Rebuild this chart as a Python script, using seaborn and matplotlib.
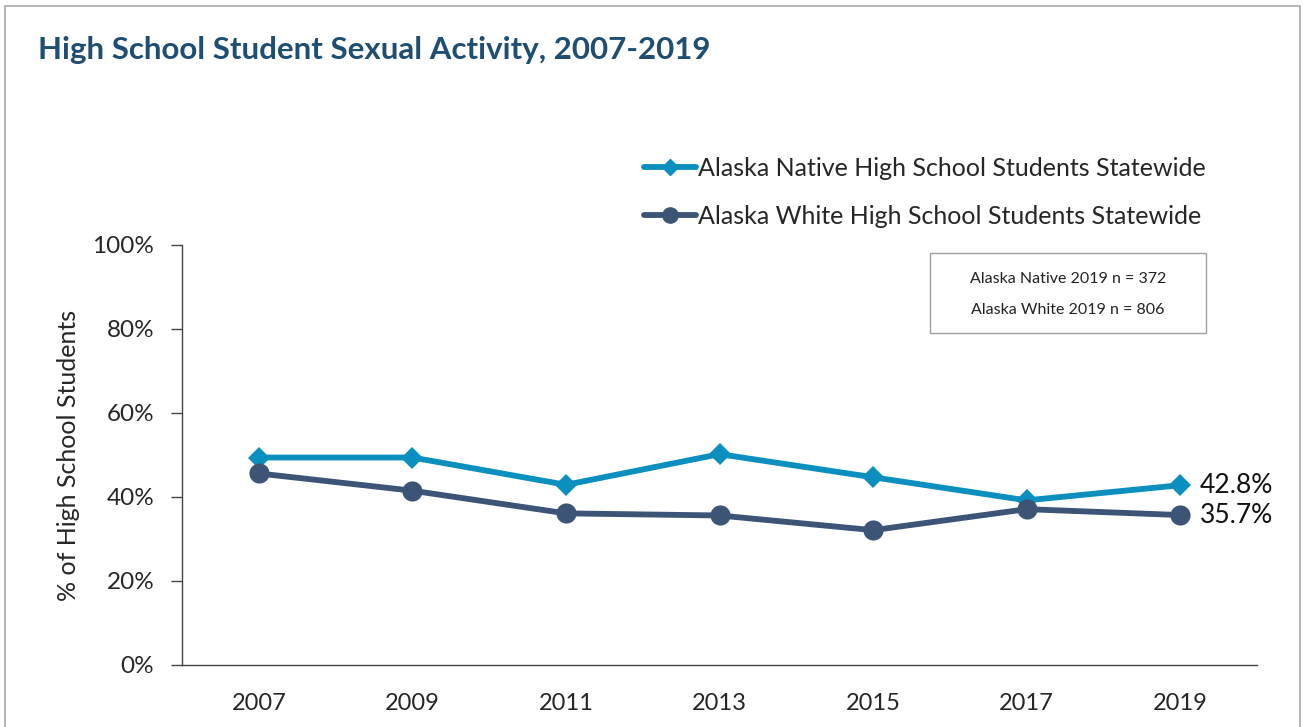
import numpy as np
import pandas as pd
import matplotlib.pyplot as plt
import seaborn as sns
from matplotlib.lines import Line2D
from matplotlib.patches import Rectangle

# data
years = ["2007", "2009", "2011", "2013", "2015", "2017", "2019"]
native = [49.4, 49.4, 42.9, 50.2, 44.7, 39.2, 42.8]
white = [45.6, 41.5, 36.1, 35.6, 32.1, 37.1, 35.7]
series_names = ["Alaska Native High School Students Statewide",
                "Alaska White High School Students Statewide"]
colors = ["#0A8FBF", "#3C5577"]
note_lines = ["Alaska Native 2019 n = 372", "Alaska White 2019 n = 806"]

df = pd.DataFrame({
    "pos": list(range(len(years))) * 2,
    "value": native + white,
    "group": [series_names[0]] * len(years) + [series_names[1]] * len(years),
})

sns.set_theme(style="white")
plt.rcParams["font.family"] = ["Lato", "DejaVu Sans"]

fig = plt.figure(figsize=(13.07, 7.27), dpi=100)
ax = fig.add_axes([0.1393, 0.0853, 0.8224, 0.5777])

sns.lineplot(data=df, x="pos", y="value", hue="group", style="group",
             markers={series_names[0]: "D", series_names[1]: "o"},
             dashes=False, palette=dict(zip(series_names, colors)),
             linewidth=4.2, markersize=14.5, markeredgewidth=0,
             legend=False, ax=ax)
for line in ax.lines:
    if line.get_marker() == "D":
        line.set_markersize(11)

ax.set_xlim(-0.5, len(years) - 0.5)
ax.set_ylim(0, 100)
ax.set_yticks(np.arange(0, 101, 20))
ax.set_yticklabels([f"{v}%" for v in range(0, 101, 20)], fontsize=17.5)
ax.set_xticks(range(len(years)))
ax.set_xticklabels(years, fontsize=17)
ax.set_xticks(np.arange(-0.5, len(years), 1), minor=True)
ax.tick_params(axis="x", which="major", length=0, pad=20)
ax.tick_params(axis="x", which="minor", length=8, width=1, color="#444444", direction="out")
ax.tick_params(axis="y", length=8, width=1, color="#444444", direction="out", left=True, pad=12)
ax.set_xlabel("")
ax.set_ylabel("% of High School Students", fontsize=18, labelpad=9)

for s in ["top", "right"]:
    ax.spines[s].set_visible(False)
for s in ["left", "bottom"]:
    ax.spines[s].set_color("#444444")
    ax.spines[s].set_linewidth(1)

# end labels
ax.annotate(f"{native[-1]:.1f}%", (len(years) - 1, native[-1]), xytext=(14, 0),
            textcoords="offset points", va="center", fontsize=19, color="#111111")
ax.annotate(f"{white[-1]:.1f}%", (len(years) - 1, white[-1]), xytext=(14, 0),
            textcoords="offset points", va="center", fontsize=19, color="#111111")

# legend above the plot
handles = [Line2D([0], [0], color=colors[0], lw=4.2, marker="D", markersize=8),
           Line2D([0], [0], color=colors[1], lw=4.2, marker="o", markersize=11)]
fig.legend(handles, series_names, loc="upper left", bbox_to_anchor=(0.4755, 0.815),
           frameon=False, fontsize=18, handlelength=2.1, handletextpad=0.05,
           labelspacing=1.0)

# sample size note box
fig.patches.append(Rectangle((930 / 1307, 1 - 333 / 727), 276 / 1307, 80 / 727,
                             transform=fig.transFigure, facecolor="white",
                             edgecolor="#A0A0A0", linewidth=1))
fig.text(1068 / 1307, 1 - 279 / 727, note_lines[0], ha="center", va="center", fontsize=11.5,
         color="#222222")
fig.text(1068 / 1307, 1 - 310 / 727, note_lines[1], ha="center", va="center", fontsize=11.5,
         color="#222222")

# title and outer frame
fig.text(38 / 1307, 1 - 50 / 727, "High School Student Sexual Activity, 2007-2019",
         fontsize=22.5, fontweight="bold", color="#1F4E73", va="center", ha="left")
fig.patches.append(Rectangle((5 / 1307, -0.05), 1295 / 1307, 1.05 - 6 / 727,
                             transform=fig.transFigure, fill=False,
                             edgecolor="#A8A8A8", linewidth=1.2))

fig.savefig("out.png", dpi=100)
